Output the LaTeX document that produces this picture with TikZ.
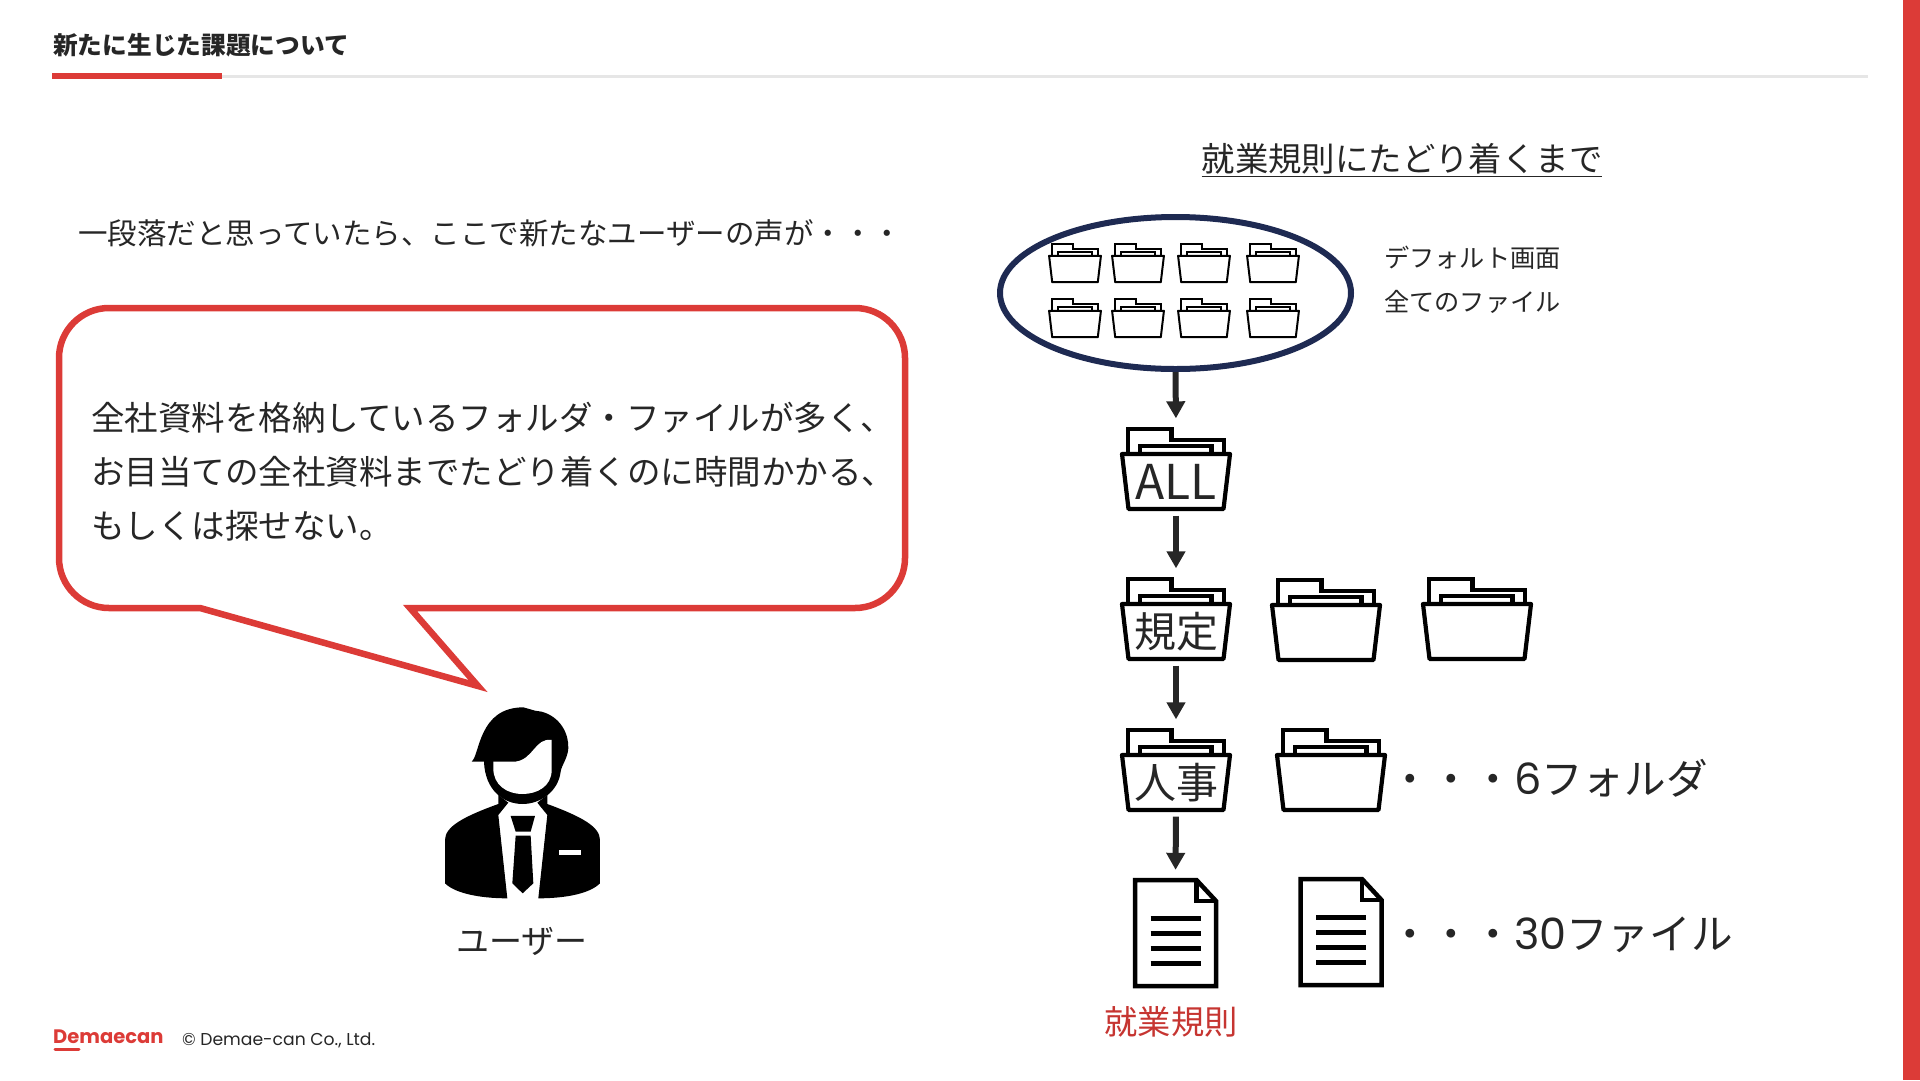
\documentclass[tikz,border=0pt]{standalone}
\usepackage{fontspec}
\setmainfont{Noto Sans CJK JP}
\newfontfamily\latinfont{Poppins}
\usetikzlibrary{arrows.meta,positioning,shapes.geometric,calc}
\definecolor{dmred}{HTML}{DC3B37}
\definecolor{dmnavy}{HTML}{1E2A52}
\definecolor{dmink}{HTML}{262626}
\definecolor{dmrule}{HTML}{E6E6E6}
\newcommand{\fsize}[1]{\fontsize{#1}{#1}\selectfont}

\begin{document}
\begin{tikzpicture}[
  x=1pt, y=-1pt,
  txt/.style={anchor=west, inner sep=0pt, text=dmink},
  mid/.style={inner sep=0pt, text=dmink},
  arr/.style={-{Triangle[length=17pt, width=18pt]}, line width=6pt, dmink, shorten <=4pt, shorten >=8pt},
  folderbox/.style={minimum width=111pt, minimum height=85pt, inner sep=0pt},
  foldertext/.style={inner sep=0pt, text=dmink, font=\fsize{42}},
  smallfolder/.style={scale=.48, line width=2pt},
  docbox/.style={minimum width=85pt, minimum height=110pt, inner sep=0pt},
  folderbody/.pic={
    \draw[black, line join=round, pic actions] (-54,-15) -- (54,-15) -- (47.5,40) -- (-47.5,40) -- cycle;
    \draw[black, pic actions] (-48,-17) -- (-48,-40) -- (-4.5,-40) -- (-4.5,-29) -- (48,-29) -- (48,-17);
    \draw[black, pic actions] (-36,-17) -- (-36,-23) -- (35.5,-23) -- (35.5,-17);
  },
  folder/.pic={
    \pic[line width=4.2pt] {folderbody};
    \node[folderbox] (-box) {};
    \node[foldertext] (-text) at (0,13) {\tikzpictext};
  },
  document/.pic={
    \node[docbox] (-box) {};
    \draw[line width=4.5pt, black, miter limit=4] (-40.5,-53) -- (21,-53) -- (40.5,-32) -- (40.5,53) -- (-40.5,53) -- cycle;
    \draw[line width=4.5pt, black] (21,-53) -- (21,-32) -- (40.5,-32);
    \foreach \y in {-15,0,15,30} \draw[line width=5pt, black] (-25,\y) -- (25,\y);
  },
]
\useasboundingbox (0,0) rectangle (1920,1080);

% page furniture
\node[inner sep=0pt, anchor=west, font=\fsize{24.7}\bfseries, text=dmink] (title) at (53,45) {新たに生じた課題について};
\draw[dmrule, line width=3pt] (222,76) -- (1868,76);
\draw[dmred, line width=6pt] (52,76) -- (222,76);
\fill[dmred] (1903,0) rectangle (1920,1080);
\node[inner sep=0pt, anchor=west, font=\latinfont\fsize{19.5}\bfseries, text=dmred] (logo) at (53,1037) {Demaecan};
\draw[dmred, line width=3pt, line cap=round] (55,1049) -- (79,1049);
\node[txt, font=\latinfont\fsize{17.2}] (copy) at (182,1040) {© Demae-can Co., Ltd.};

% left column: speech bubble and user
\node[txt, font=\fsize{29.5}] (intro) at (78,233) {一段落だと思っていたら、ここで新たなユーザーの声が・・・};
\draw[dmred, line width=6.5pt, miter limit=10] (200,608) [rounded corners=50pt] -- (59,608) -- (59,308) -- (905,308) -- (905,608) -- (650,608) [sharp corners] -- (410,608) -- (478,686) -- cycle;
\node[txt, align=left, font=\fontsize{33.5}{54}\selectfont] (voice) at (91,472) {全社資料を格納しているフォルダ・ファイルが多く、\\お目当ての全社資料までたどり着くのに時間かかる、\\もしくは探せない。};

% user icon
\begin{scope}[shift={(420,680)}, x=.3333pt, y=-.3333pt]
\fill[black] (155,245) .. controls (180,225) and (175,82) .. (310,82) -- (345,92) -- (365,95) .. controls (420,110) and (447,160) .. (445,205) .. controls (443,235) and (425,255) .. (422,275) .. controls (415,335) and (360,372) .. (308,372) .. controls (250,372) and (195,330) .. (192,245) -- cycle;
\fill[white] (220,245) -- (285,245) .. controls (340,240) and (345,172) .. (395,180) -- (395,270) .. controls (395,320) and (350,342) .. (308,342) .. controls (260,342) and (220,315) .. (220,265) -- cycle;
\fill[black] (75,610) -- (75,480) .. controls (75,440) and (130,410) .. (235,372) -- (235,345) -- (265,368) -- (235,405) -- (262,655) .. controls (180,655) and (105,640) .. (75,610) -- cycle;
\fill[black] (540,610) -- (540,480) .. controls (540,440) and (485,410) .. (382,372) -- (382,345) -- (352,368) -- (382,405) -- (355,655) .. controls (440,655) and (510,640) .. (540,610) -- cycle;
\fill[black] (272,408) -- (345,408) -- (332,455) -- (287,455) -- cycle;
\fill[black] (287,467) -- (332,467) -- (340,610) -- (308,640) -- (277,610) -- cycle;
\fill[white] (417,510) rectangle (483,525);
\end{scope}
\node[mid, font=\fsize{33}] (user) at (522,941) {ユーザー};

% right column: heading and default screen
\node[mid, font=\fsize{33.4}] (route) at (1402,160) {\underline{就業規則にたどり着くまで}};
\node[ellipse, draw=dmnavy, line width=6pt, minimum width=351pt, minimum height=152pt, inner sep=0pt] (screen) at (1175.5,293) {};
\foreach \y in {263,318}
  \foreach \x in {1075,1138,1204,1273}
    \pic[smallfolder] at (\x,\y) {folderbody};
\node[txt, font=\fsize{25.2}] (deflabel) at (1384,258) {デフォルト画面};
\node[txt, font=\fsize{25.2}] (alllabel) at (1384,302) {全てのファイル};

% folder chain
\pic[pic text={\fsize{48}ALL}] (all) at (1176,469) {folder};
\pic[pic text={規定}] (rule) at (1176,619) {folder};
\pic[pic text={}] (rule2) at (1326,620) {folder};
\pic[pic text={}] (rule3) at (1477,619) {folder};
\pic[pic text={\raisebox{-3pt}{人事}}] (hr) at (1176,770) {folder};
\pic[pic text={}] (hr2) at (1331,770) {folder};
\pic (doc) at (1175.5,933) {document};
\pic (doc2) at (1341,932) {document};

\node[txt, font=\fsize{41.6}] (sixlabel) at (1389,778) {・・・{\latinfont\fsize{43}6}フォルダ};
\node[txt, font=\fsize{41.6}] (thirtylabel) at (1389,935) {・・・{\latinfont\fsize{43}30}ファイル};
\node[mid, font=\fsize{33.3}, text=dmred!90!black] (doclabel) at (1171,1022) {就業規則};

% downward flow
\draw[arr, shorten <=0pt] (screen.south) -- (all-box.north);
\draw[arr] (all-box.south) -- (rule-box.north);
\draw[arr] (rule-box.south) -- (hr-box.north);
\draw[arr] (hr-box.south) -- (doc-box.north);
\end{tikzpicture}
\end{document}
